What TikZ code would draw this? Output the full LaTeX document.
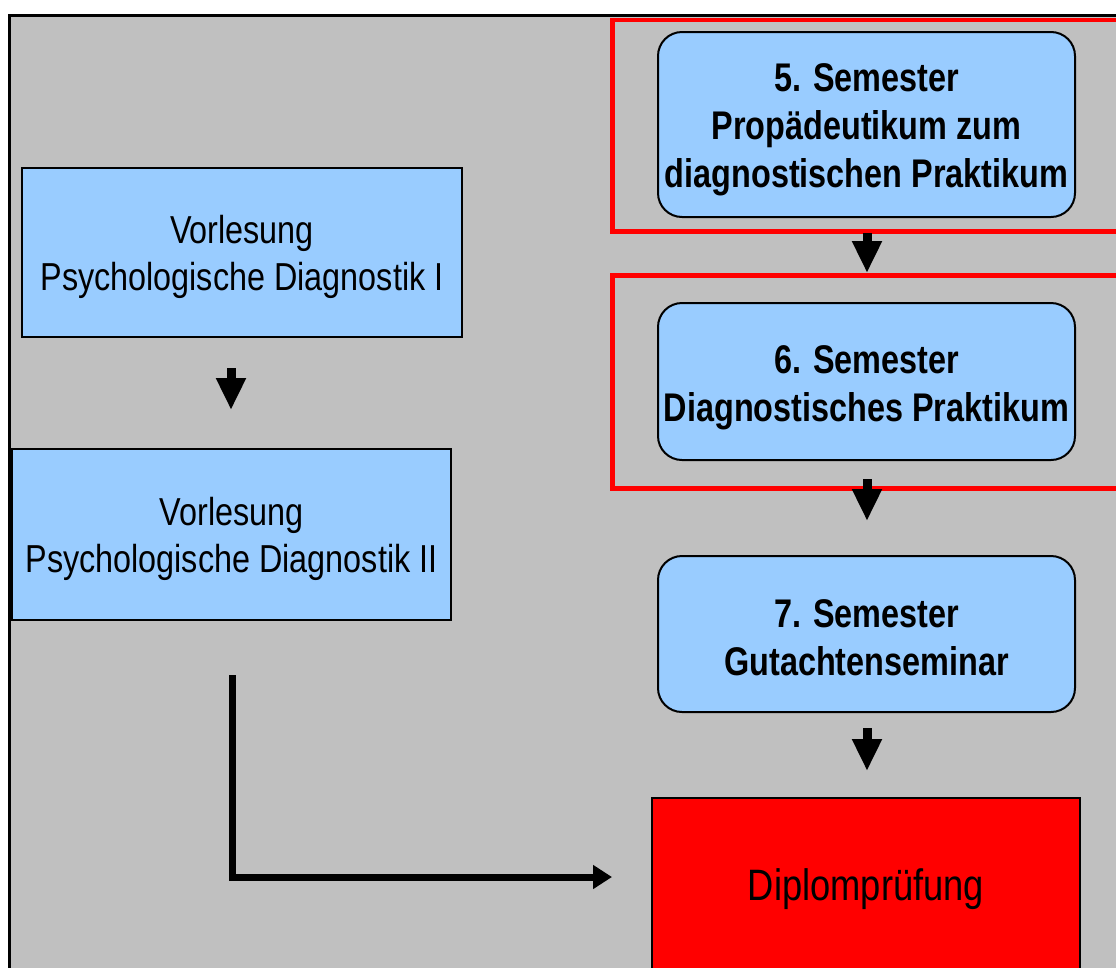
\documentclass[tikz,border=0pt]{standalone}
\usepackage{fontspec}
\setmainfont{Liberation Sans}
\newfontfamily\narrowbold[FakeStretch=0.81]{Liberation Sans Bold}
\newfontfamily\narrowreg[FakeStretch=0.825]{Liberation Sans}
\newfontfamily\lecturereg[FakeStretch=0.83]{Liberation Sans}
\newcommand{\mytopstrut}[1]{\rule{0pt}{#1}}
\usetikzlibrary{arrows.meta}
\definecolor{bggray}{HTML}{C0C0C0}
\definecolor{boxblue}{HTML}{99CCFF}
\definecolor{frame red}{HTML}{FF0000}
\tikzset{
  lecture/.style={draw=black, line width=2.5pt, fill=boxblue, inner sep=0pt, align=center,
    font=\lecturereg\fontsize{39}{47}\selectfont},
  semester/.style={draw=black, line width=2pt, fill=boxblue, rounded corners=24pt, inner sep=0pt,
    minimum width=417pt, align=center, font=\narrowbold\fontsize{40}{48}\selectfont},
  exam/.style={draw=black, line width=2pt, fill=frame red, inner sep=0pt, align=center,
    font=\narrowreg\fontsize{44}{50}\selectfont},
  redframe/.style={draw=frame red, line width=4.5pt},
  blockarrow/.style={line width=9pt, -{Triangle[width=28pt,length=32pt]}},
  lconn/.style={line width=7pt, line join=miter, -{Triangle[width=23pt,length=19pt]}}
}
\begin{document}
\begin{tikzpicture}[x=1pt,y=-1pt]
\useasboundingbox (0,0) rectangle (1116,967);
\clip (0,0) rectangle (1116,967);
% background panel
\draw[line width=3pt, fill=bggray] (9.5,15.5) rectangle (1140,995);
% red frames
\draw[redframe] (612.5,20) rectangle (1140,231.7);
\draw[redframe] (612.5,275.7) rectangle (1140,488.3);
% left lectures
\node[lecture, minimum width=440pt, minimum height=169pt] (v1) at (242,252.5)
  {\mytopstrut{38pt}Vorlesung\\Psychologische Diagnostik I};
\node[lecture, minimum width=439pt, minimum height=171pt] (v2) at (231.5,534.5)
  {\mytopstrut{38pt}Vorlesung\\Psychologische Diagnostik II};
% semesters
\node[semester, minimum height=185pt] (s5) at (866.5,124.5)
  {\mytopstrut{38pt}5. Semester\\Propädeutikum zum\\diagnostischen Praktikum};
\node[semester, minimum height=157pt] (s6) at (866.5,381.5)
  {\mytopstrut{40pt}6. Semester\\Diagnostisches Praktikum};
\node[semester, minimum height=156pt] (s7) at (866.5,634)
  {\mytopstrut{35pt}7. Semester\\Gutachtenseminar};
% exam
\node[exam, minimum width=428pt, minimum height=174pt] (dp) at (866,885)
  {\mytopstrut{41pt}Diplomprüfung};
% arrow anchors
\coordinate (a1s) at (231,368); \coordinate (a1e) at (231,410);
\coordinate (a2s) at (867,233); \coordinate (a2e) at (867,273);
\coordinate (a3s) at (867,479); \coordinate (a3e) at (867,521);
\coordinate (a4s) at (867,728); \coordinate (a4e) at (867,771);
\coordinate (ls) at (232,675); \coordinate (le) at (612,877);
\draw[blockarrow] (a1s) -- (a1e);
\draw[blockarrow] (a2s) -- (a2e);
\draw[blockarrow] (a3s) -- (a3e);
\draw[blockarrow] (a4s) -- (a4e);
\draw[lconn] (ls) |- (le);
\end{tikzpicture}
\end{document}
